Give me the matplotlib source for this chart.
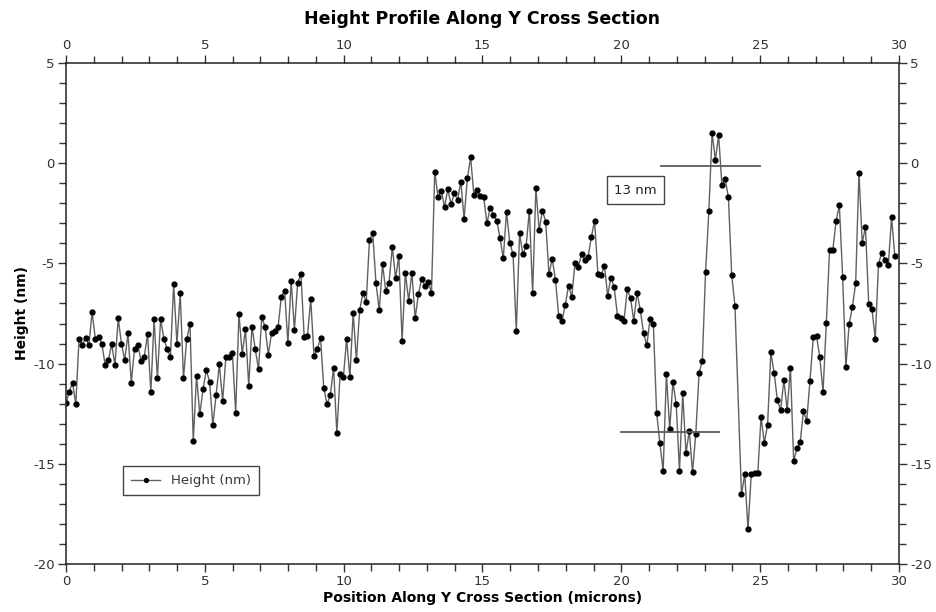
import numpy as np
import matplotlib
matplotlib.use("Agg")
import matplotlib.pyplot as plt
from matplotlib.ticker import MultipleLocator

plt.rcParams["axes.unicode_minus"] = False

# Height readings (nm), in order along the section
heights_part1 = [
    -11.98, -11.40, -10.95, -12.03, -8.77, -9.07, -8.72, -9.07, -7.43, -8.77,
    -8.66, -9.02, -10.07, -9.82, -9.02, -10.07, -7.74, -9.02, -9.82, -8.49,
    -10.95, -9.27, -9.07, -9.87, -9.65, -8.52, -11.42, -7.77, -10.73, -7.77,
    -8.77, -9.27, -9.65, -6.03, -9.02, -6.49, -10.73, -8.77, -8.02, -13.85,
    -10.62, -12.52, -11.28, -10.33, -10.90,
]
heights_part2 = [
    -13.06, -11.57, -10.02, -11.88, -9.65, -9.69, -9.49, -12.45, -7.52, -9.51,
    -8.29, -11.10, -8.16, -9.29, -10.27, -7.69, -8.16, -9.55, -8.46, -8.39,
    -8.16, -6.66, -6.36, -8.99, -5.86, -8.32, -5.96, -5.53, -8.69, -8.62,
    -6.79, -9.61, -9.29, -8.72, -11.23, -12.02, -11.57, -10.20, -13.48, -10.52,
    -10.68, -8.77, -10.68,
]
heights_part3 = [
    -7.46, -9.82, -7.33, -6.46, -6.94, -3.83, -3.50, -5.99, -7.34, -5.05,
    -6.36, -5.96, -4.17, -5.73, -4.63, -8.87, -5.46, -6.86, -5.46, -7.74,
    -6.53, -5.76, -6.13, -5.91, -6.49, -0.42, -1.67, -1.37, -2.17, -1.30,
    -2.05, -1.50, -1.84, -0.92, -2.78, -0.75, 0.29, -1.59, -1.34,
]
heights_part4 = [
    -1.64, -1.70, -3.00, -2.22, -2.58, -2.87, -3.72, -4.75, -2.42, -3.97,
    -4.55, -8.36, -3.50, -4.55, -4.13, -2.37, -6.49, -1.25, -3.33, -2.37,
    -2.92, -5.53, -4.78, -5.83, -7.62, -7.86, -7.08, -6.11, -6.66, -4.97,
    -5.16, -4.55, -4.83, -4.67, -3.67, -2.88, -5.53, -5.58, -5.13, -6.61,
    -5.71, -6.19, -7.61, -7.74,
]
heights_part5 = [
    -7.87, -6.29, -6.74, -7.86, -6.46, -7.33, -8.49, -9.09, -7.76, -8.04,
    -12.45, -13.98, -15.36, -10.52, -13.28, -10.90, -12.03, -15.34, -11.48, -14.48,
    -13.35, -15.42, -13.51, -10.48, -9.86, -5.43, -2.40, 1.52, 0.16, 1.39,
    -1.09, -0.79, -1.70, -5.56, -7.11,
]
# one sample is missing after part5, the trace skips straight over it
heights_part6 = [
    -16.52, -15.52, -18.27, -15.52, -15.47, -15.47, -12.65,
    -13.95, -13.06, -9.44, -10.45, -11.82, -12.32, -10.82, -12.32, -10.20, -14.86,
    -14.23, -13.90, -12.37, -12.85, -10.85, -8.69, -8.62, -9.69, -11.40, -7.99,
    -4.33, -4.33, -2.88, -2.10, -5.66, -10.15, -8.04, -7.16, -5.99, -0.47,
    -3.97, -3.20, -7.03, -7.28, -8.77, -5.01, -4.47, -4.83, -5.08, -2.70,
    -4.63,
]

height = np.array(heights_part1 + heights_part2 + heights_part3
                  + heights_part4 + heights_part5 + heights_part6)

# sample spacing along the section (microns)
step = 29.85 / 254
gap = len(heights_part1 + heights_part2 + heights_part3 + heights_part4 + heights_part5)
idx = np.arange(len(height))
idx[gap:] += 1
position = idx * step

# step-height markers
top_level, top_x = -0.12, (21.43, 24.99)
bottom_level, bottom_x = -13.43, (19.99, 23.51)
step_label = "13 nm"

# ---------------- PLOT ----------------
fig = plt.figure(figsize=(9.36, 6.12), dpi=100)
ax = fig.add_axes([66 / 936, 1 - 564 / 612, 833 / 936, 501 / 612])

ax.plot(position, height, color="#606060", lw=1.0, marker="o", ms=3.5,
        mfc="black", mec="black", label="Height (nm)")

ax.plot(top_x, [top_level, top_level], color="#5a5a5a", lw=1.3)
ax.plot(bottom_x, [bottom_level, bottom_level], color="#5a5a5a", lw=1.3)
ax.text(20.5, -1.34, step_label, ha="center", va="center", fontsize=9.5,
        color="#222222",
        bbox=dict(boxstyle="square,pad=0.55", fc="white", ec="#444444", lw=1))

ax.set_xlim(0, 30)
ax.set_ylim(-20, 5)
ax.xaxis.set_major_locator(MultipleLocator(5))
ax.xaxis.set_minor_locator(MultipleLocator(1))
ax.yaxis.set_major_locator(MultipleLocator(5))
ax.yaxis.set_minor_locator(MultipleLocator(1))
ax.tick_params(which="both", direction="out", top=True, right=True,
               labeltop=True, labelright=True, labelsize=9.5,
               labelcolor="#333333", color="#333333", pad=2)
ax.tick_params(which="major", length=6, width=1)
ax.tick_params(which="minor", length=5, width=1)
for s in ax.spines.values():
    s.set_color("#222222")
    s.set_linewidth(1.1)

ax.set_title("Height Profile Along Y Cross Section", fontsize=12.5,
             fontweight="bold", pad=11)
ax.set_xlabel("Position Along Y Cross Section (microns)", fontsize=10,
              fontweight="bold", labelpad=2)
ax.set_ylabel("Height (nm)", fontsize=10, fontweight="bold", labelpad=3)

leg = ax.legend(loc="lower left", bbox_to_anchor=(0.061, 0.124),
                fontsize=9.5, fancybox=False, framealpha=1,
                edgecolor="#444444", handlelength=2.2, borderpad=0.6,
                markerscale=0.8)
leg.get_frame().set_linewidth(1)
for t in leg.get_texts():
    t.set_color("#3a3048")

fig.savefig("out.png", dpi=100)
